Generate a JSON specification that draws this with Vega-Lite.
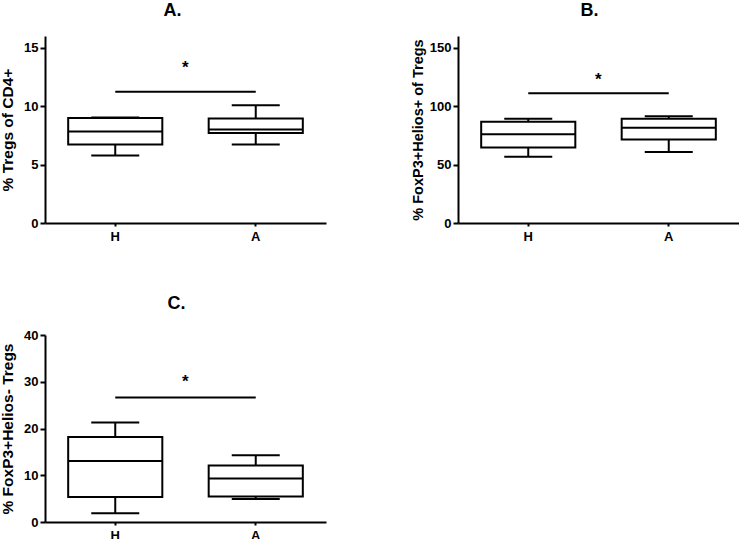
{
  "$schema": "https://vega.github.io/schema/vega-lite/v6.json",
  "background": "white",
  "padding": {"left": 0, "top": 2, "right": 0, "bottom": 0},
  "datasets": {
    "stats": [
      {"panel": "A", "group": "H", "min": 5.78, "q1": 6.72, "median": 7.82, "q3": 8.98, "max": 9.02},
      {"panel": "A", "group": "A", "min": 6.72, "q1": 7.69, "median": 8.0, "q3": 8.95, "max": 10.08},
      {"panel": "B", "group": "H", "min": 56.7, "q1": 64.7, "median": 75.9, "q3": 86.6, "max": 89.3},
      {"panel": "B", "group": "A", "min": 60.7, "q1": 71.4, "median": 81.5, "q3": 89.3, "max": 91.4},
      {"panel": "C", "group": "H", "min": 1.86, "q1": 5.36, "median": 13.07, "q3": 18.2, "max": 21.3},
      {"panel": "C", "group": "A", "min": 4.93, "q1": 5.44, "median": 9.3, "q3": 12.08, "max": 14.3}
    ],
    "sig": [
      {"panel": "A", "group": "H", "y": 11.24, "star": 13.3},
      {"panel": "A", "group": "A", "y": 11.24, "star": 13.3},
      {"panel": "B", "group": "H", "y": 111.1, "star": 122.0},
      {"panel": "B", "group": "A", "y": 111.1, "star": 122.0},
      {"panel": "C", "group": "H", "y": 26.65, "star": 29.9},
      {"panel": "C", "group": "A", "y": 26.65, "star": 29.9}
    ]
  },
  "config": {
    "view": {"stroke": null},
    "font": "Liberation Sans",
    "axis": {
      "grid": false,
      "domainColor": "black",
      "domainWidth": 2,
      "tickColor": "black",
      "tickWidth": 2,
      "tickSize": 5,
      "labelFont": "Liberation Sans",
      "labelFontWeight": "bold",
      "labelFontSize": 13,
      "labelColor": "black",
      "labelPadding": 2,
      "titleFont": "Liberation Sans",
      "titleFontSize": 15.5,
      "titleFontWeight": "bold",
      "titleColor": "black",
      "titlePadding": 8
    },
    "axisX": {"labelAngle": 0, "tickSize": 3, "labelPadding": 4},
    "title": {"font": "Liberation Sans", "fontSize": 18, "fontWeight": "bold", "color": "black", "anchor": "middle", "offset": 16}
  },
  "vconcat": [
    {
      "hconcat": [
        {
          "width": 281,
          "height": 187,
          "title": {"text": "A.", "dx": -13},
          "encoding": {
            "x": {"field": "group", "type": "nominal", "sort": ["H", "A"], "scale": {"domain": ["H", "A"], "paddingInner": 0, "paddingOuter": 0}, "axis": {"title": null}}
          },
          "layer": [
            {"data": {"name": "stats"}, "transform": [{"filter": "datum.panel === 'A'"}], "mark": {"type": "rule", "color": "black", "strokeWidth": 2},
             "encoding": {"y": {"field": "min", "type": "quantitative", "scale": {"domain": [0, 15]}, "axis": {"values": [0, 5, 10, 15], "title": "% Tregs of CD4+"}}, "y2": {"field": "q1"}}},
            {"data": {"name": "stats"}, "transform": [{"filter": "datum.panel === 'A'"}], "mark": {"type": "rule", "color": "black", "strokeWidth": 2},
             "encoding": {"y": {"field": "q3", "type": "quantitative"}, "y2": {"field": "max"}}},
            {"data": {"name": "stats"}, "transform": [{"filter": "datum.panel === 'A'"}], "mark": {"type": "bar", "fill": "white", "stroke": "black", "strokeWidth": 2, "width": {"band": 0.67}},
             "encoding": {"y": {"field": "q1", "type": "quantitative"}, "y2": {"field": "q3"}}},
            {"data": {"name": "stats"}, "transform": [{"filter": "datum.panel === 'A'"}], "mark": {"type": "tick", "color": "black", "size": 94, "thickness": 2, "opacity": 1},
             "encoding": {"y": {"field": "median", "type": "quantitative"}}},
            {"data": {"name": "stats"}, "transform": [{"filter": "datum.panel === 'A'"}], "mark": {"type": "tick", "color": "black", "size": 48, "thickness": 2, "opacity": 1},
             "encoding": {"y": {"field": "min", "type": "quantitative"}}},
            {"data": {"name": "stats"}, "transform": [{"filter": "datum.panel === 'A'"}], "mark": {"type": "tick", "color": "black", "size": 48, "thickness": 2, "opacity": 1},
             "encoding": {"y": {"field": "max", "type": "quantitative"}}},
            {"data": {"name": "sig"}, "transform": [{"filter": "datum.panel === 'A'"}], "mark": {"type": "line", "color": "black", "strokeWidth": 2},
             "encoding": {"y": {"field": "y", "type": "quantitative"}}},
            {"data": {"name": "sig"}, "transform": [{"filter": "datum.panel === 'A' && datum.group === 'H'"}], "mark": {"type": "text", "text": "*", "fontSize": 17, "fontWeight": "bold", "dx": 70, "baseline": "middle", "color": "black"},
             "encoding": {"y": {"field": "star", "type": "quantitative"}}}
          ]
        },
        {
          "width": 281,
          "height": 187,
          "title": {"text": "B.", "dx": -9},
          "encoding": {
            "x": {"field": "group", "type": "nominal", "sort": ["H", "A"], "scale": {"domain": ["H", "A"], "paddingInner": 0, "paddingOuter": 0}, "axis": {"title": null}}
          },
          "layer": [
            {"data": {"name": "stats"}, "transform": [{"filter": "datum.panel === 'B'"}], "mark": {"type": "rule", "color": "black", "strokeWidth": 2},
             "encoding": {"y": {"field": "min", "type": "quantitative", "scale": {"domain": [0, 150]}, "axis": {"values": [0, 50, 100, 150], "title": "% FoxP3+Helios+ of Tregs", "titlePadding": 4, "titleFontSize": 14.5}}, "y2": {"field": "q1"}}},
            {"data": {"name": "stats"}, "transform": [{"filter": "datum.panel === 'B'"}], "mark": {"type": "rule", "color": "black", "strokeWidth": 2},
             "encoding": {"y": {"field": "q3", "type": "quantitative"}, "y2": {"field": "max"}}},
            {"data": {"name": "stats"}, "transform": [{"filter": "datum.panel === 'B'"}], "mark": {"type": "bar", "fill": "white", "stroke": "black", "strokeWidth": 2, "width": {"band": 0.67}},
             "encoding": {"y": {"field": "q1", "type": "quantitative"}, "y2": {"field": "q3"}}},
            {"data": {"name": "stats"}, "transform": [{"filter": "datum.panel === 'B'"}], "mark": {"type": "tick", "color": "black", "size": 94, "thickness": 2, "opacity": 1},
             "encoding": {"y": {"field": "median", "type": "quantitative"}}},
            {"data": {"name": "stats"}, "transform": [{"filter": "datum.panel === 'B'"}], "mark": {"type": "tick", "color": "black", "size": 48, "thickness": 2, "opacity": 1},
             "encoding": {"y": {"field": "min", "type": "quantitative"}}},
            {"data": {"name": "stats"}, "transform": [{"filter": "datum.panel === 'B'"}], "mark": {"type": "tick", "color": "black", "size": 48, "thickness": 2, "opacity": 1},
             "encoding": {"y": {"field": "max", "type": "quantitative"}}},
            {"data": {"name": "sig"}, "transform": [{"filter": "datum.panel === 'B'"}], "mark": {"type": "line", "color": "black", "strokeWidth": 2},
             "encoding": {"y": {"field": "y", "type": "quantitative"}}},
            {"data": {"name": "sig"}, "transform": [{"filter": "datum.panel === 'B' && datum.group === 'H'"}], "mark": {"type": "text", "text": "*", "fontSize": 17, "fontWeight": "bold", "dx": 70, "baseline": "middle", "color": "black"},
             "encoding": {"y": {"field": "star", "type": "quantitative"}}}
          ]
        }
      ],
      "spacing": 84
    },
    {
      "width": 281,
      "height": 187,
      "title": {"text": "C.", "dx": -9},
      "encoding": {
        "x": {"field": "group", "type": "nominal", "sort": ["H", "A"], "scale": {"domain": ["H", "A"], "paddingInner": 0, "paddingOuter": 0}, "axis": {"title": null}}
      },
      "layer": [
        {"data": {"name": "stats"}, "transform": [{"filter": "datum.panel === 'C'"}], "mark": {"type": "rule", "color": "black", "strokeWidth": 2},
         "encoding": {"y": {"field": "min", "type": "quantitative", "scale": {"domain": [0, 40]}, "axis": {"values": [0, 10, 20, 30, 40], "title": "% FoxP3+Helios- Tregs"}}, "y2": {"field": "q1"}}},
        {"data": {"name": "stats"}, "transform": [{"filter": "datum.panel === 'C'"}], "mark": {"type": "rule", "color": "black", "strokeWidth": 2},
         "encoding": {"y": {"field": "q3", "type": "quantitative"}, "y2": {"field": "max"}}},
        {"data": {"name": "stats"}, "transform": [{"filter": "datum.panel === 'C'"}], "mark": {"type": "bar", "fill": "white", "stroke": "black", "strokeWidth": 2, "width": {"band": 0.67}},
         "encoding": {"y": {"field": "q1", "type": "quantitative"}, "y2": {"field": "q3"}}},
        {"data": {"name": "stats"}, "transform": [{"filter": "datum.panel === 'C'"}], "mark": {"type": "tick", "color": "black", "size": 94, "thickness": 2, "opacity": 1},
         "encoding": {"y": {"field": "median", "type": "quantitative"}}},
        {"data": {"name": "stats"}, "transform": [{"filter": "datum.panel === 'C'"}], "mark": {"type": "tick", "color": "black", "size": 48, "thickness": 2, "opacity": 1},
         "encoding": {"y": {"field": "min", "type": "quantitative"}}},
        {"data": {"name": "stats"}, "transform": [{"filter": "datum.panel === 'C'"}], "mark": {"type": "tick", "color": "black", "size": 48, "thickness": 2, "opacity": 1},
         "encoding": {"y": {"field": "max", "type": "quantitative"}}},
        {"data": {"name": "sig"}, "transform": [{"filter": "datum.panel === 'C'"}], "mark": {"type": "line", "color": "black", "strokeWidth": 2},
         "encoding": {"y": {"field": "y", "type": "quantitative"}}},
        {"data": {"name": "sig"}, "transform": [{"filter": "datum.panel === 'C' && datum.group === 'H'"}], "mark": {"type": "text", "text": "*", "fontSize": 17, "fontWeight": "bold", "dx": 70, "baseline": "middle", "color": "black"},
         "encoding": {"y": {"field": "star", "type": "quantitative"}}}
      ]
    }
  ],
  "spacing": 52
}
